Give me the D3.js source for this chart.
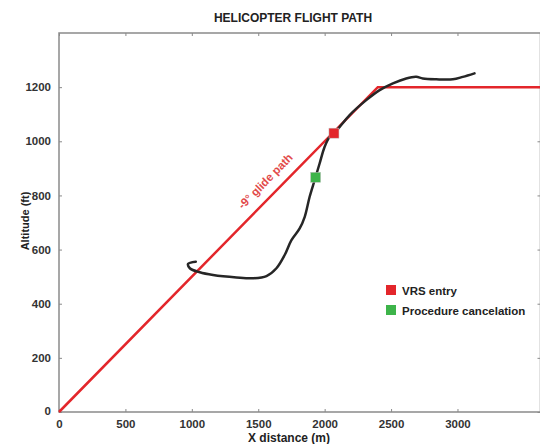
<!DOCTYPE html>
<html>
<head>
<meta charset="utf-8">
<script src="https://cdn.jsdelivr.net/npm/d3@7"></script>
<style>
  body { margin: 0; background: #fff; }
  svg { font-family: "Liberation Sans", Arial, sans-serif; }
  .tick text { font-weight: bold; fill: #333; }
</style>
</head>
<body>
<script>
// flight path of the helicopter (x distance in m, altitude in ft)
var pathX = [1030, 972, 985, 1060, 1160, 1336, 1461, 1562, 1637, 1699, 1750, 1812, 1850,
             1887, 1925, 1962, 2000, 2038, 2075, 2188, 2313, 2414, 2514, 2614, 2689, 2739,
             2840, 2965, 3040, 3128];
var pathY = [555, 547, 531, 516, 506, 497, 494, 502, 531, 580, 635, 678, 721,
             795, 857, 918, 980, 1017, 1031, 1097, 1152, 1189, 1214, 1232, 1238, 1232,
             1229, 1229, 1238, 1251];
// glide path
var glideX = [0, 2400, 3700];
var glideY = [0, 1200, 1200];
// markers
var markerNames = ["VRS entry", "Procedure cancelation"];
var markerX = [2070, 1932];
var markerY = [1030, 867];
var markerColours = ["#e3262b", "#3db44a"];
// ticks
var xTicks = [0, 500, 1000, 1500, 2000, 2500, 3000];
var yTicks = [0, 200, 400, 600, 800, 1000, 1200];

var width = 540, height = 444;
var pad = {top: 33, bottom: 32, left: 59, right: 0};

var svg = d3.select("body")
            .append("svg")
            .attr("width", width)
            .attr("height", height);

var xScale = d3.scaleLinear()
               .domain([0, 3625])
               .range([pad.left, width + 0.5]);
var yScale = d3.scaleLinear()
               .domain([0, 1400])
               .range([height - pad.bottom, pad.top]);

var plotRight = xScale(3625);
var axisColour = "#8a8a8a";

// frame of the plot
svg.append("rect")
   .attr("x", pad.left)
   .attr("y", pad.top)
   .attr("width", plotRight - pad.left)
   .attr("height", yScale(0) - pad.top)
   .attr("fill", "none")
   .attr("stroke", axisColour)
   .attr("stroke-width", 1.5);

// axes with inward ticks
var fmt = d3.format("d");
var xAxisCall = d3.axisBottom(xScale).tickValues(xTicks).tickFormat(fmt)
                  .tickSizeInner(-3).tickSizeOuter(0).tickPadding(8);
var yAxisCall = d3.axisLeft(yScale).tickValues(yTicks).tickFormat(fmt)
                  .tickSizeInner(-3).tickSizeOuter(0).tickPadding(8);

var gx = svg.append("g")
   .attr("transform", "translate(0," + yScale(0) + ")")
   .call(xAxisCall);
var gy = svg.append("g")
   .attr("transform", "translate(" + pad.left + ",0)")
   .call(yAxisCall);

// mirrored ticks on top and right
svg.append("g")
   .attr("transform", "translate(0," + pad.top + ")")
   .call(d3.axisTop(xScale).tickValues(xTicks).tickSizeInner(-3).tickSizeOuter(0).tickFormat(""));
svg.append("g")
   .attr("transform", "translate(" + plotRight + ",0)")
   .call(d3.axisRight(yScale).tickValues(yTicks).tickSizeInner(-3).tickSizeOuter(0).tickFormat(""));

svg.selectAll(".domain").remove();
svg.selectAll(".tick line").attr("stroke", axisColour).attr("stroke-width", 1);
svg.selectAll(".tick text").style("font-size", "11.5px");
gy.selectAll(".tick text").filter(function(d){ return d == 0; }).attr("dy", "0.2em");

// glide path
var line = d3.line()
             .x(function(d){ return xScale(d[0]); })
             .y(function(d){ return yScale(d[1]); });

svg.append("path")
   .attr("d", line(d3.zip(glideX, glideY)))
   .attr("fill", "none")
   .attr("stroke", "#e3262b")
   .attr("stroke-width", 2.5);

// flight path
var smooth = d3.line()
               .x(function(d){ return xScale(d[0]); })
               .y(function(d){ return yScale(d[1]); })
               .curve(d3.curveCatmullRom);

svg.append("path")
   .attr("d", smooth(d3.zip(pathX, pathY)))
   .attr("fill", "none")
   .attr("stroke", "#262626")
   .attr("stroke-width", 2.5)
   .attr("stroke-linecap", "round");

// markers
svg.selectAll(".marker")
   .data(markerNames)
   .enter()
   .append("rect")
   .attr("class", "marker")
   .attr("x", function(d, i){ return xScale(markerX[i]) - 5; })
   .attr("y", function(d, i){ return yScale(markerY[i]) - 5; })
   .attr("width", 10)
   .attr("height", 10)
   .attr("fill", function(d, i){ return markerColours[i]; })
   .attr("stroke", "#c0c0c0")
   .attr("stroke-width", 0.5);

// glide path label, placed along the slope
var lx = xScale(1620), ly = yScale(820);
var ang = Math.atan2(yScale(1200) - yScale(0), xScale(2400) - xScale(0)) * 180 / Math.PI;
svg.append("text")
   .attr("transform", "translate(" + (lx - 6) + "," + (ly - 6) + ") rotate(" + ang + ")")
   .attr("text-anchor", "middle")
   .style("font-size", "11.5px")
   .style("font-weight", "bold")
   .style("fill", "#e24a4a")
   .text("-9\u00b0 glide path");

// legend
var legend = svg.append("g")
                .attr("transform", "translate(386,290)");
var items = legend.selectAll("g")
                  .data(markerNames)
                  .enter()
                  .append("g")
                  .attr("transform", function(d, i){ return "translate(0," + (i * 20) + ")"; });
items.append("rect")
     .attr("x", 0)
     .attr("y", -5)
     .attr("width", 10)
     .attr("height", 10)
     .attr("fill", function(d, i){ return markerColours[i]; });
items.append("text")
     .attr("x", 16)
     .attr("y", 4.5)
     .style("font-size", "11.5px")
     .style("font-weight", "bold")
     .style("fill", "#222")
     .text(function(d){ return d; });

// title
svg.append("text")
   .attr("x", 293)
   .attr("y", 22)
   .attr("text-anchor", "middle")
   .style("font-size", "12px")
   .style("font-weight", "bold")
   .style("fill", "#222")
   .text("HELICOPTER FLIGHT PATH");

// axis labels
svg.append("text")
   .attr("x", 289)
   .attr("y", 442)
   .attr("text-anchor", "middle")
   .style("font-size", "12px")
   .style("font-weight", "bold")
   .style("fill", "#222")
   .text("X distance (m)");

svg.append("text")
   .attr("transform", "rotate(-90)")
   .attr("x", -221)
   .attr("y", 29)
   .attr("text-anchor", "middle")
   .style("font-size", "11px")
   .style("font-weight", "bold")
   .style("fill", "#222")
   .text("Altitude (ft)");
</script>
</body>
</html>
